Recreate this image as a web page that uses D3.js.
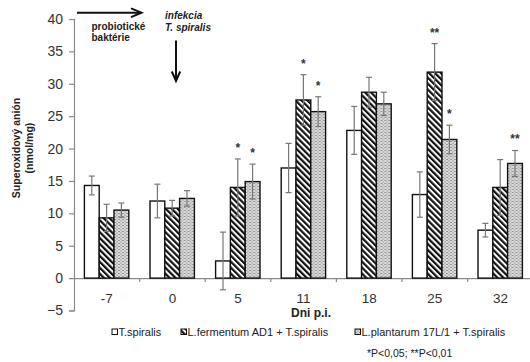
<!DOCTYPE html>
<html>
<head>
<meta charset="utf-8">
<script src="https://cdn.jsdelivr.net/npm/d3@7"></script>
<style>
  html, body { margin: 0; padding: 0; background: #fff; }
  svg { display: block; font-family: "Liberation Sans", Arial, sans-serif; }
</style>
</head>
<body>
<svg id="chart" width="530" height="362"></svg>
<script>
// Days post infection (p.i.)
const days = ["-7", "0", "5", "11", "18", "25", "32"];

// Superoxide anion (nmol/mg), mean and error per group
const tspiralis    = [14.3, 11.9, 2.65, 17.0, 22.8, 12.9, 7.4];
const tspiralisErr = [1.45, 2.6, 4.45, 3.8, 3.7, 3.5, 1.05];
const fermentum    = [9.3, 10.8, 14.0, 27.5, 28.7, 31.8, 14.0];
const fermentumErr = [2.1, 1.2, 4.4, 3.9, 2.3, 4.4, 4.3];
const plantarum    = [10.5, 12.3, 14.9, 25.7, 26.9, 21.4, 17.7];
const plantarumErr = [1.1, 1.2, 2.7, 2.3, 1.8, 2.2, 2.0];

// Significance marks
const fermentumSig = ["", "", "*", "*", "", "**", ""];
const plantarumSig = ["", "", "*", "*", "", "*", "**"];

const seriesNames = ["T.spiralis", "L.fermentum AD1 + T.spiralis", "L.plantarum 17L/1 + T.spiralis"];
const yTicks = [-5, 0, 5, 10, 15, 20, 25, 30, 35, 40];

const series = [
  { name: seriesNames[0], values: tspiralis, errs: tspiralisErr, sig: null, fill: "#ffffff" },
  { name: seriesNames[1], values: fermentum, errs: fermentumErr, sig: fermentumSig, fill: "url(#hatch)" },
  { name: seriesNames[2], values: plantarum, errs: plantarumErr, sig: plantarumSig, fill: "url(#dots)" }
];

const svg = d3.select("#chart");
const defs = svg.append("defs");

// diagonal black stripes
const hatch = defs.append("pattern")
  .attr("id", "hatch").attr("patternUnits", "userSpaceOnUse")
  .attr("width", 4.2).attr("height", 4.2)
  .attr("patternTransform", "rotate(-45)");
hatch.append("rect").attr("width", 4.2).attr("height", 4.2).attr("fill", "#fff");
hatch.append("rect").attr("width", 2.2).attr("height", 4.2).attr("fill", "#111");

// fine grey texture
const dots = defs.append("pattern")
  .attr("id", "dots").attr("patternUnits", "userSpaceOnUse")
  .attr("width", 4).attr("height", 3);
dots.append("rect").attr("width", 4).attr("height", 3).attr("fill", "#dadada");
dots.append("rect").attr("x", 0).attr("y", 0).attr("width", 2).attr("height", 1).attr("fill", "#969696");
dots.append("rect").attr("x", 2).attr("y", 1.5).attr("width", 2).attr("height", 1).attr("fill", "#a2a2a2");

const x0 = d3.scaleBand().domain(days).range([74, 533.2]).paddingInner(0).paddingOuter(0);
const x1 = d3.scaleBand().domain(d3.range(3)).range([10.4, 54.8]).padding(0);
const y = d3.scaleLinear().domain([-5, 40]).range([310.5, 19]);

const axisColor = "#8a8a8a";

// y axis
const yAxis = svg.append("g")
  .attr("transform", "translate(74,0)")
  .call(d3.axisLeft(y).tickValues(yTicks).tickSize(5).tickPadding(6).tickFormat(d3.format("d")));
yAxis.select(".domain").attr("stroke", axisColor).attr("stroke-width", 1.2);
yAxis.selectAll(".tick line").attr("stroke", axisColor).attr("stroke-width", 1.2);
yAxis.selectAll(".tick text")
  .attr("font-size", 14).attr("fill", "#333")
  .attr("font-family", "Liberation Sans, Arial, sans-serif");

// x axis along zero
const xAxis = svg.append("g")
  .attr("transform", `translate(0,${y(0)})`)
  .call(d3.axisBottom(x0).tickSize(0).tickPadding(15).tickSizeOuter(0));
xAxis.select(".domain").attr("stroke", axisColor).attr("stroke-width", 1.2);
xAxis.selectAll(".tick text")
  .attr("font-size", 13.5).attr("fill", "#333")
  .attr("font-family", "Liberation Sans, Arial, sans-serif");

// boundary ticks between days
svg.append("g").selectAll("line")
  .data(days.slice(1))
  .join("line")
  .attr("x1", d => x0(d)).attr("x2", d => x0(d))
  .attr("y1", y(0)).attr("y2", y(0) + 4)
  .attr("stroke", axisColor).attr("stroke-width", 1.2);

// bars
const groups = svg.append("g").selectAll("g")
  .data(days)
  .join("g")
  .attr("transform", d => `translate(${x0(d)},0)`);

groups.selectAll("rect")
  .data((d, i) => series.map((s, k) => ({ k, v: s.values[i], fill: s.fill })))
  .join("rect")
  .attr("x", d => x1(d.k))
  .attr("width", x1.bandwidth())
  .attr("y", d => Math.min(y(d.v), y(0)))
  .attr("height", d => Math.abs(y(0) - y(d.v)))
  .attr("fill", d => d.fill)
  .attr("stroke", "#111")
  .attr("stroke-width", 1.4);

// error bars
const errColor = "#777";
const errData = [];
days.forEach((d, i) => series.forEach((s, k) => errData.push({
  d, k, v: s.values[i], e: s.errs[i], sig: s.sig ? s.sig[i] : ""
})));

const eb = svg.append("g").selectAll("g").data(errData).join("g")
  .attr("transform", d => `translate(${x0(d.d) + x1(d.k) + x1.bandwidth() / 2},0)`);
eb.append("line")
  .attr("y1", d => y(d.v + d.e)).attr("y2", d => y(d.v - d.e))
  .attr("stroke", errColor).attr("stroke-width", 1.2);
eb.append("line")
  .attr("x1", -3).attr("x2", 3)
  .attr("y1", d => y(d.v + d.e)).attr("y2", d => y(d.v + d.e))
  .attr("stroke", errColor).attr("stroke-width", 1.2);
eb.append("line")
  .attr("x1", -3).attr("x2", 3)
  .attr("y1", d => y(d.v - d.e)).attr("y2", d => y(d.v - d.e))
  .attr("stroke", errColor).attr("stroke-width", 1.2);

// significance stars
eb.filter(d => d.sig)
  .append("text")
  .attr("y", d => y(d.v + d.e) - 7)
  .attr("text-anchor", "middle")
  .attr("font-size", 12).attr("font-weight", "bold")
  .attr("fill", "#333")
  .text(d => d.sig);

// axis titles
svg.append("text")
  .attr("x", 311).attr("y", 317)
  .attr("text-anchor", "middle")
  .attr("font-size", 12).attr("font-weight", "bold").attr("fill", "#222")
  .text("Dni p.i.");

const yTitle = svg.append("text")
  .attr("transform", "translate(20,148) rotate(-90)")
  .attr("text-anchor", "middle")
  .attr("font-size", 10.5).attr("font-weight", "bold").attr("fill", "#222");
yTitle.append("tspan").attr("x", 0).attr("y", 0).text("Superoxidový anión");
yTitle.append("tspan").attr("x", 0).attr("y", 13).text("(nmol/mg)");

// annotations: probiotic bacteria, then infection
const arrowColor = "#111";
svg.append("line")
  .attr("x1", 77).attr("x2", 141).attr("y1", 12.7).attr("y2", 12.7)
  .attr("stroke", arrowColor).attr("stroke-width", 2);
svg.append("path")
  .attr("d", "M131,8.3 L141.5,12.7 L131,17.1")
  .attr("fill", "none").attr("stroke", arrowColor).attr("stroke-width", 2);

svg.append("text").attr("x", 91.5).attr("y", 29.5)
  .attr("font-size", 10).attr("font-weight", "bold").attr("fill", "#222")
  .text("probiotické");
svg.append("text").attr("x", 91.5).attr("y", 41)
  .attr("font-size", 10).attr("font-weight", "bold").attr("fill", "#222")
  .text("baktérie");

svg.append("text").attr("x", 165).attr("y", 19)
  .attr("font-size", 10).attr("font-weight", "bold").attr("font-style", "italic").attr("fill", "#222")
  .text("infekcia");
svg.append("text").attr("x", 165).attr("y", 30.5)
  .attr("font-size", 10).attr("font-weight", "bold").attr("font-style", "italic").attr("fill", "#222")
  .text("T. spiralis");

svg.append("line")
  .attr("x1", 176).attr("x2", 176).attr("y1", 40.5).attr("y2", 80.5)
  .attr("stroke", arrowColor).attr("stroke-width", 2);
svg.append("path")
  .attr("d", "M171.8,71.5 L176,81 L180.2,71.5")
  .attr("fill", "none").attr("stroke", arrowColor).attr("stroke-width", 2);

// legend
const legendX = [112, 181, 355];
const legend = svg.append("g").selectAll("g")
  .data(series)
  .join("g")
  .attr("transform", (d, i) => `translate(${legendX[i]},332)`);
legend.append("rect")
  .attr("x", 0).attr("y", -3).attr("width", 5.5).attr("height", 5.5)
  .attr("fill", d => d.fill).attr("stroke", "#111").attr("stroke-width", 1);
legend.append("text")
  .attr("x", 6.5).attr("y", 4)
  .attr("font-size", 11).attr("fill", "#222")
  .text(d => d.name);

svg.append("text")
  .attr("x", 367).attr("y", 357)
  .attr("font-size", 10.5).attr("fill", "#222")
  .text("*P<0,05; **P<0,01");
</script>
</body>
</html>
